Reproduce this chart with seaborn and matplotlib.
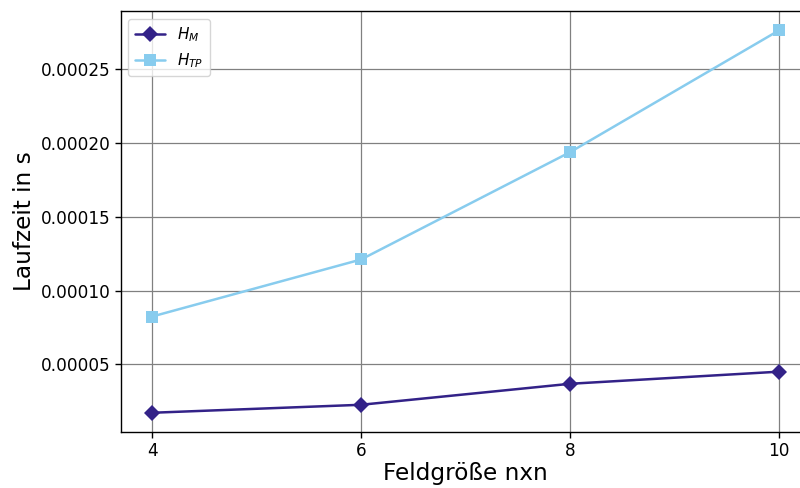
import matplotlib
matplotlib.use("Agg")
import matplotlib.pyplot as plt
import seaborn as sns
import pandas as pd

# Laufzeiten je Feldgröße
feldgroesse = [4, 6, 8, 10]
laufzeit_hm = [0.0000173, 0.0000227, 0.0000369, 0.0000451]
laufzeit_htp = [0.0000824, 0.000121, 0.0001936, 0.000276]

df = pd.DataFrame({
    "n": feldgroesse * 2,
    "zeit": laufzeit_hm + laufzeit_htp,
    "heuristik": ["$H_M$"] * 4 + ["$H_{TP}$"] * 4,
})

sns.set_style("white")
plt.rcParams["font.family"] = ["DejaVu Sans"]
plt.rcParams["text.color"] = "black"
plt.rcParams["axes.labelcolor"] = "black"
plt.rcParams["xtick.color"] = "black"
plt.rcParams["ytick.color"] = "black"

fig = plt.figure(figsize=(8, 4.88), dpi=100)
ax = fig.add_axes([0.151, 0.115, 0.862, 0.862])

sns.lineplot(data=df, x="n", y="zeit", hue="heuristik", style="heuristik",
             palette=["#332288", "#88CCEE"], markers=["D", "s"], dashes=False,
             markersize=8, markeredgewidth=0, linewidth=1.8, ax=ax)

ax.set_xticks(feldgroesse)
ax.grid(True, color="gray", linewidth=0.9)
ax.set_axisbelow(True)
for s in ax.spines.values():
    s.set_color("black")
    s.set_linewidth(1.0)
ax.tick_params(axis="both", labelsize=12.2, length=4, width=1, direction="out",
               bottom=True, left=True, colors="black")
ax.set_xlabel("Feldgröße nxn", fontsize=16.7, color="black", labelpad=1)
ax.set_ylabel("Laufzeit in s", fontsize=16.7, color="black", labelpad=3)

leg = ax.legend(loc="upper left", fontsize=11, framealpha=0.8)
leg.set_title(None)

fig.savefig("out.png", dpi=100)
